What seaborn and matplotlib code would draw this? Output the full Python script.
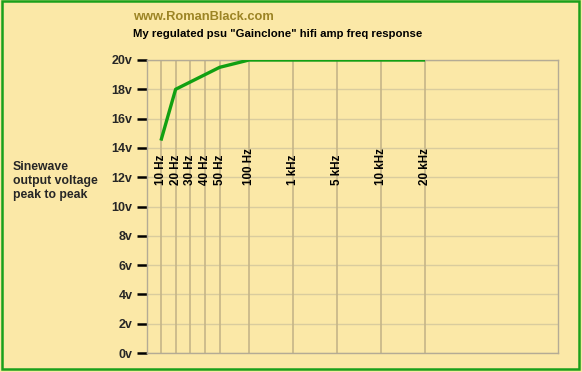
import numpy as np
import pandas as pd
import matplotlib
matplotlib.use("Agg")
import matplotlib.pyplot as plt
import matplotlib.patches as mpatches
import seaborn as sns

# ---- data ----
freq_hz = [10, 20, 30, 40, 50, 100, 1000, 5000, 10000, 20000]
freq_labels = ["10 Hz", "20 Hz", "30 Hz", "40 Hz", "50 Hz", "100 Hz", "1 kHz", "5 kHz", "10 kHz", "20 kHz"]
voltage_pp = [14.5, 18.0, 18.5, 19.0, 19.5, 20.0, 20.0, 20.0, 20.0, 20.0]
y_ticks = list(range(0, 21, 2))
y_tick_labels = [f"{v}v" for v in y_ticks]

BG = "#FBE8A7"
sns.set_theme(style="white", rc={"axes.facecolor": BG, "figure.facecolor": BG})
plt.rcParams["font.family"] = ["Liberation Sans", "DejaVu Sans"]

# ---- custom (chart-specific) frequency scale: piecewise log ----
scale_anchor_pos = np.array([1, 2, 3, 4, 5, 7, 10, 13, 16, 19], dtype=float)
lf = np.log10(np.array(freq_hz, dtype=float))

def fwd(f):
    l = np.log10(np.clip(np.asarray(f, dtype=float), 1e-6, None))
    ls = (scale_anchor_pos[1] - scale_anchor_pos[0]) / (lf[1] - lf[0])
    rs = (scale_anchor_pos[-1] - scale_anchor_pos[-2]) / (lf[-1] - lf[-2])
    return np.where(l < lf[0], scale_anchor_pos[0] + (l - lf[0]) * ls,
           np.where(l > lf[-1], scale_anchor_pos[-1] + (l - lf[-1]) * rs,
                    np.interp(l, lf, scale_anchor_pos)))

def inv(p):
    p = np.asarray(p, dtype=float)
    ls = (scale_anchor_pos[1] - scale_anchor_pos[0]) / (lf[1] - lf[0])
    rs = (scale_anchor_pos[-1] - scale_anchor_pos[-2]) / (lf[-1] - lf[-2])
    l = np.where(p < scale_anchor_pos[0], lf[0] + (p - scale_anchor_pos[0]) / ls,
        np.where(p > scale_anchor_pos[-1], lf[-1] + (p - scale_anchor_pos[-1]) / rs,
                 np.interp(p, scale_anchor_pos, lf)))
    return 10 ** l

fig = plt.figure(figsize=(5.82, 3.72), dpi=100)
ax = fig.add_axes([147 / 582, 1 - 353 / 372, (558 - 147) / 582, (353 - 60) / 372])
ax.set_xscale("function", functions=(fwd, inv))
ax.set_xlim(float(inv(0.05)), float(inv(28.06)))
ax.set_ylim(0, 20)

# grid
for v in y_ticks:
    ax.axhline(v, color="#D9CC9E", lw=1.0, zorder=1)
for f in freq_hz:
    ax.axvline(f, color="#C5B588", lw=1.2, zorder=1)

df = pd.DataFrame({"freq": freq_hz, "volts": voltage_pp})
sns.lineplot(data=df, x="freq", y="volts", ax=ax, color="#12A012", lw=2.4,
             zorder=3, solid_capstyle="butt")

for s in ["top", "right", "left", "bottom"]:
    ax.spines[s].set_visible(True)
    ax.spines[s].set_color("#B4AB95")
    ax.spines[s].set_linewidth(1.0)

ax.set_xticks([])
ax.set_yticks(y_ticks)
ax.set_yticklabels(y_tick_labels, fontsize=9, fontweight="bold")
ax.tick_params(axis="y", direction="out", length=7.5, width=1.8, color="black", pad=3, left=True)
ax.set_xlabel("")
ax.set_ylabel("")

for f, lab in zip(freq_hz, freq_labels):
    ax.text(f, 11.5, lab, rotation=90, ha="center", va="bottom",
            fontsize=8.4, fontweight="bold", color="black", zorder=4)

fig.text(133 / 582, 1 - 17 / 372, "www.RomanBlack.com", fontsize=9.3, fontweight="bold",
         color="#9C8424", ha="left", va="center")
fig.text(133 / 582, 1 - 34 / 372, "My regulated psu \"Gainclone\" hifi amp freq response",
         fontsize=8.2, fontweight="bold", color="black", ha="left", va="center")
fig.text(13 / 582, 1 - 181 / 372, "Sinewave\noutput voltage\npeak to peak", fontsize=8.8,
         fontweight="bold", ha="left", va="center", linespacing=1.2)

fig.patches.append(mpatches.Rectangle((1.5 / 582, 1 - 368.5 / 372), 577 / 582, 367.5 / 372,
                                      transform=fig.transFigure, fill=False,
                                      edgecolor="#1AA01A", lw=1.8))

fig.savefig("out.png", dpi=100)
